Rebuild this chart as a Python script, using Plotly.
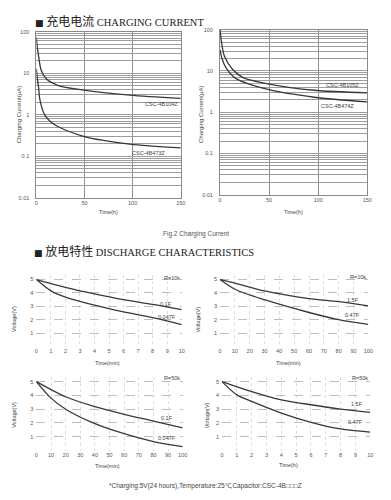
import plotly.graph_objects as go

W, H = 391, 500

# ---------------- data ----------------
# Charging current (log scale, uA) vs time (h)
t_104 = [0, 0.7, 1.7, 5, 10, 22, 49, 97, 150]
i_104 = [73, 46, 32, 11.7, 7.4, 5.1, 3.9, 2.95, 2.46]
t_473 = [0, 1, 2.4, 3.4, 8.5, 19, 49, 97, 150]
i_473 = [12.8, 7.4, 4.3, 2.46, 1.0, 0.57, 0.30, 0.195, 0.158]

t_105 = [0, 1.5, 4.4, 12.7, 23, 50, 96, 150]
i_105 = [100, 50, 23, 11, 7, 4.8, 3.4, 2.95]
t_474 = [0, 2, 6, 16, 50, 96, 150]
i_474 = [33, 20, 12, 6.6, 3.5, 2.3, 1.77]

charge_x_ticks = [0, 50, 100, 150]
decade_values = [0.01, 0.1, 1, 10, 100]
decade_labels = ["0.01", "0.1", "1", "10", "100"]

# Discharge: R=10k, time (min) 0-10
d1_t_a = [0, 2, 4, 6, 8, 10]
d1_v_a = [5, 4.42, 3.93, 3.5, 3.16, 2.77]          # 0.1F
d1_t_b = [0, 1, 2, 4, 6, 8, 10]
d1_v_b = [5, 4.16, 3.7, 3.1, 2.6, 2.17, 1.65]       # 0.047F

# Discharge: R=10k, time (min) 0-100
d2_t_a = [0, 10, 30, 60, 80, 100]
d2_v_a = [5, 4.74, 4.15, 3.58, 3.36, 3.05]          # 1.5F
d2_t_b = [0, 10, 30, 60, 80, 100]
d2_v_b = [5, 4.28, 3.5, 2.55, 2.02, 1.67]           # 0.47F

# Discharge: R=50k, time (min) 0-100
d3_t_a = [0, 20, 40, 60, 80, 100]
d3_v_a = [5, 3.9, 3.18, 2.63, 2.14, 1.64]           # 0.1F
d3_t_b = [0, 10, 20, 40, 60, 80, 100]
d3_v_b = [5, 3.8, 3.0, 1.95, 1.22, 0.65, 0.28]      # 0.047F

# Discharge: R=50k, time (h) 0-10
d4_t_a = [0, 2, 4, 6, 8, 10]
d4_v_a = [5, 4.28, 3.68, 3.32, 3.01, 2.77]          # 1.5F
d4_t_b = [0, 1, 2, 4, 6, 8, 10]
d4_v_b = [5, 4.04, 3.56, 2.72, 2.05, 1.57, 1.34]    # 0.47F

# ---------------- helpers ----------------
def px_x(a, b):
    return [a / W, b / W]

def px_y(top, bottom):
    return [1 - bottom / H, 1 - top / H]

LINE = dict(color="#383838", width=1.3, shape="spline", smoothing=0.8)
TICKFONT = dict(family="Liberation Sans", size=5.5, color="#555")

fig = go.Figure()

def add(x, y, xa, ya):
    fig.add_trace(go.Scatter(x=x, y=y, mode="lines", line=LINE,
                             xaxis=xa, yaxis=ya, showlegend=False,
                             hoverinfo="skip"))

add(t_104, i_104, "x", "y")
add(t_473, i_473, "x", "y")
add(t_105, i_105, "x2", "y2")
add(t_474, i_474, "x2", "y2")
add(d1_t_a, d1_v_a, "x3", "y3")
add(d1_t_b, d1_v_b, "x3", "y3")
add(d2_t_a, d2_v_a, "x4", "y4")
add(d2_t_b, d2_v_b, "x4", "y4")
add(d3_t_a, d3_v_a, "x5", "y5")
add(d3_t_b, d3_v_b, "x5", "y5")
add(d4_t_a, d4_v_a, "x6", "y6")
add(d4_t_b, d4_v_b, "x6", "y6")

# log tick grid (all 1..9 per decade, labels at decades)
log_tickvals, log_ticktext = [], []
for dv, dl in zip(decade_values[:-1], decade_labels[:-1]):
    for k in range(1, 10):
        log_tickvals.append(dv * k)
        log_ticktext.append(dl if k == 1 else "")
log_tickvals.append(decade_values[-1])
log_ticktext.append(decade_labels[-1])

def log_x(dom):
    return dict(domain=dom, range=[0, 150], tickvals=charge_x_ticks,
                showgrid=True, gridcolor="#8f8f8f", gridwidth=0.9,
                showline=True, mirror=True, linecolor="#8a8a8a", linewidth=1,
                zeroline=False, ticks="", tickfont=TICKFONT, fixedrange=True)

def log_y(dom, anchor):
    return dict(domain=dom, type="log", range=[-2, 2], tickvals=log_tickvals,
                ticktext=log_ticktext, showgrid=True, gridcolor="#9c9c9c",
                gridwidth=0.9, showline=True, mirror=True, linecolor="#8a8a8a",
                linewidth=1, zeroline=False, ticks="", tickfont=TICKFONT,
                ticklabelstandoff=5, anchor=anchor, fixedrange=True)

def d_x(dom, rng, dt, anchor):
    return dict(domain=dom, range=rng, dtick=dt, tick0=0, showgrid=True,
                gridcolor="#dcdcdc", griddash="dot", gridwidth=0.8,
                showline=False, zeroline=False, ticks="", tickfont=TICKFONT,
                anchor=anchor, fixedrange=True)

def d_y(dom, anchor):
    return dict(domain=dom, range=[0, 5.3], tick0=0, showgrid=True,
                gridcolor="#bdbdbd", griddash="dash", gridwidth=0.8,
                showline=False, zeroline=False, ticks="", tickfont=TICKFONT,
                ticklabelstandoff=2, anchor=anchor, fixedrange=True,
                tickvals=[1, 2, 3, 4, 5])

fig.update_layout(
    width=W, height=H, margin=dict(l=0, r=0, t=0, b=0),
    paper_bgcolor="white", plot_bgcolor="white",
    xaxis=log_x(px_x(35, 182)) | dict(anchor="y"),
    yaxis=log_y(px_y(29, 197), "x"),
    xaxis2=log_x(px_x(222, 372)) | dict(anchor="y2"),
    yaxis2=log_y(px_y(27, 194), "x2"),
    xaxis3=d_x(px_x(35, 183), [0, 10], 1, "y3"),
    yaxis3=d_y(px_y(275.8, 348), "x3"),
    xaxis4=d_x(px_x(222, 373), [0, 100], 10, "y4"),
    yaxis4=d_y(px_y(275.8, 348), "x4"),
    xaxis5=d_x(px_x(35, 184), [0, 100], 10, "y5"),
    yaxis5=d_y(px_y(379, 453), "x5"),
    xaxis6=d_x(px_x(224, 375), [0, 10], 1, "y6"),
    yaxis6=d_y(px_y(379, 453), "x6"),
)

ann = []
def note(text, x, y, xref="paper", yref="paper", size=5.5, angle=0,
         xanchor="center", family="Liberation Sans", color="#444"):
    ann.append(dict(text=text, x=x, y=y, xref=xref, yref=yref,
                    showarrow=False, textangle=angle, xanchor=xanchor,
                    yanchor="middle", font=dict(family=family, size=size,
                                                color=color)))

def pxx(v):
    return v / W

def pxy(v):
    return 1 - v / H

# section titles
note("<span style='font-family:DejaVu Sans;font-size:9px'>■</span> "
     "<span style='font-family:Noto Sans CJK SC;font-size:12px'>充电电流</span>"
     " CHARGING CURRENT", pxx(32), pxy(18), size=10.5,
     xanchor="left", family="Liberation Serif", color="#222")
note("<span style='font-family:DejaVu Sans;font-size:9px'>■</span> "
     "<span style='font-family:Noto Sans CJK SC;font-size:12px'>放电特性</span>"
     " DISCHARGE CHARACTERISTICS", pxx(31), pxy(251), size=10.5,
     xanchor="left", family="Liberation Serif", color="#222")
note("Fig.2 Charging Current", pxx(198), pxy(234), size=6.5, color="#555")
note("*Charging:5V(24 hours),Temperature:25℃,Capacitor:CSC-4B□□□Z",
     pxx(107), pxy(489), size=6.5, xanchor="left", color="#444")

# axis titles
note("Time(h)", pxx(108), pxy(212), size=5.5)
note("Charging Current(μA)", pxx(17), pxy(113), size=6, angle=-90)
note("Time(h)", pxx(297), pxy(212), size=5.5)
note("Charging Current(μA)", pxx(202), pxy(113), size=6, angle=-90)
note("Time(min)", pxx(107), pxy(364), size=5.5)
note("Voltage(V)", pxx(12), pxy(320), size=5.5, angle=-90)
note("Time(min)", pxx(292), pxy(364), size=5.5)
note("Voltage(V)", pxx(200), pxy(320), size=5.5, angle=-90)
note("Time(min)", pxx(107), pxy(469), size=5.5)
note("Voltage(V)", pxx(12), pxy(417), size=5.5, angle=-90)
note("Time(h)", pxx(292), pxy(468), size=5.5)
note("Voltage(V)", pxx(209), pxy(417), size=5.5, angle=-90)

# curve labels (data coords)
note("CSC-4B104Z", 130, 0.26, "x", "y")
note("CSC-4B473Z", 117, -0.93, "x", "y")
note("CSC-4B105Z", 125, 0.65, "x2", "y2")
note("CSC-4B474Z", 120, 0.15, "x2", "y2")
note("R=10k", 9.3, 5.15, "x3", "y3")
note("0.1F", 8.9, 3.2, "x3", "y3")
note("0.047F", 9.0, 2.2, "x3", "y3")
note("R=10k", 93, 5.2, "x4", "y4")
note("1.5F", 90, 3.5, "x4", "y4")
note("0.47F", 89, 2.4, "x4", "y4")
note("R=50k", 93, 5.25, "x5", "y5")
note("0.1F", 89, 2.37, "x5", "y5")
note("0.047F", 89, 0.93, "x5", "y5")
note("R=50k", 9.3, 5.25, "x6", "y6")
note("1.5F", 9.1, 3.4, "x6", "y6")
note("0.47F", 9.0, 2.1, "x6", "y6")

fig.update_layout(annotations=ann)
fig.write_html("out.html")
